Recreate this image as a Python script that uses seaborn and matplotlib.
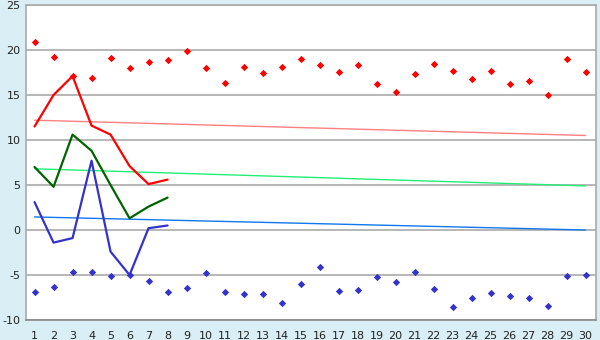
import matplotlib
matplotlib.use("Agg")
import matplotlib.pyplot as plt
import seaborn as sns
import pandas as pd
import numpy as np

days = list(range(1, 31))
max_pts = [20.9, 19.2, 17.1, 16.9, 19.1, 18.0, 18.7, 18.9, 19.9, 18.0,
           16.3, 18.1, 17.4, 18.1, 19.0, 18.3, 17.6, 18.3, 16.2, 15.3,
           17.3, 18.4, 17.7, 16.8, 17.7, 16.2, 16.6, 15.0, 19.0, 17.6]
min_pts = [-6.9, -6.3, -4.7, -4.7, -5.1, -5.0, -5.7, -6.9, -6.4, -4.8,
           -6.9, -7.1, -7.1, -8.1, -6.0, -4.1, -6.8, -6.7, -5.2, -5.8,
           -4.7, -6.6, -8.6, -7.6, -7.0, -7.3, -7.6, -8.4, -5.1, -5.0]

cur_days = [1, 2, 3, 4, 5, 6, 7, 8]
cur_max = [11.5, 15.0, 17.1, 11.6, 10.6, 7.1, 5.1, 5.6]
cur_avg = [7.0, 4.8, 10.6, 8.8, 5.0, 1.3, 2.6, 3.6]
cur_min = [3.1, -1.4, -0.9, 7.7, -2.4, -5.0, 0.2, 0.5]

trend_days = [1, 30]
trend_max = [12.2, 10.5]
trend_avg = [6.8, 4.9]
trend_min = [1.45, 0.0]

y_ticks = [-10, -5, 0, 5, 10, 15, 20, 25]

bg = "#d9eef5"
sns.set_theme(style="white")
plt.rcParams["font.family"] = ["DejaVu Sans"]

fig = plt.figure(figsize=(6, 3.4), dpi=100, facecolor=bg)
ax = fig.add_axes([26/600, 1-320/340, 570/600, 315/340])
ax.set_facecolor("white")

for yv in y_ticks:
    ax.axhline(yv, color="#aaaaaa", lw=1.2, zorder=0)

# trend lines
sns.lineplot(x=trend_days, y=trend_max, ax=ax, color="#ff8080", lw=1.0, zorder=2)
sns.lineplot(x=trend_days, y=trend_avg, ax=ax, color="#22ee77", lw=1.0, zorder=2)
sns.lineplot(x=trend_days, y=trend_min, ax=ax, color="#1177ee", lw=1.0, zorder=2)

# current lines
sns.lineplot(x=cur_days, y=cur_max, ax=ax, color="#ff0000", lw=1.6, zorder=3)
sns.lineplot(x=cur_days, y=cur_avg, ax=ax, color="#006400", lw=1.6, zorder=3)
sns.lineplot(x=cur_days, y=cur_min, ax=ax, color="#3333cc", lw=1.6, zorder=3)

# points
sns.scatterplot(x=days, y=max_pts, ax=ax, color="#ff0000", marker="D", s=14,
                linewidth=0, zorder=4)
sns.scatterplot(x=days, y=min_pts, ax=ax, color="#3333cc", marker="D", s=14,
                linewidth=0, zorder=4)

ax.set_xlim(0.55, 30.55)
ax.set_ylim(-10, 25)
ax.set_xticks(days)
ax.set_xticklabels([str(d) for d in days])
ax.set_yticks(y_ticks)
ax.set_yticklabels([str(v) for v in y_ticks])
ax.tick_params(axis="both", labelsize=8, colors="#222222", length=4, width=1,
               direction="out", pad=2)
ax.tick_params(axis="x", length=6)
ax.tick_params(axis="y", length=3)
ax.tick_params(axis="y", pad=1)
for s in ["top", "right", "left", "bottom"]:
    ax.spines[s].set_visible(True)
    ax.spines[s].set_color("#aaaaaa")
    ax.spines[s].set_linewidth(1.2)
ax.spines["bottom"].set_color("#888888")
ax.set_xlabel("")
ax.set_ylabel("")

fig.savefig("out.png", dpi=100, facecolor=bg)
